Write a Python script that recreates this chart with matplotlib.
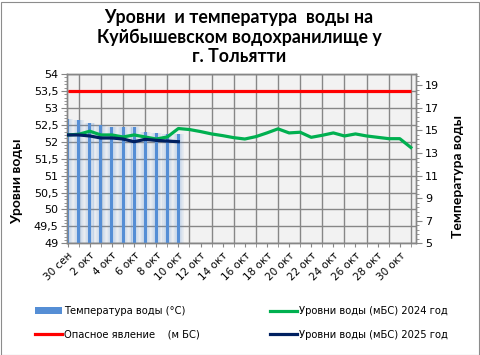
import numpy as np
import matplotlib
matplotlib.use("Agg")
import matplotlib.pyplot as plt
from matplotlib.patches import Rectangle
from matplotlib.lines import Line2D
from matplotlib.ticker import FixedLocator, MultipleLocator

# Data
days = ["30 сен", "1 окт", "2 окт", "3 окт", "4 окт", "5 окт", "6 окт", "7 окт",
        "8 окт", "9 окт", "10 окт", "11 окт", "12 окт", "13 окт", "14 окт", "15 окт",
        "16 окт", "17 окт", "18 окт", "19 окт", "20 окт", "21 окт", "22 окт", "23 окт",
        "24 окт", "25 окт", "26 окт", "27 окт", "28 окт", "29 окт", "30 окт", "31 окт"]
temp_2025 = [16.0, 15.9, 15.7, 15.5, 15.3, 15.3, 15.3, 14.9, 14.8, 14.7, 14.7]
level_2025 = [52.2, 52.2, 52.17, 52.11, 52.11, 52.08, 52.0, 52.07, 52.04, 52.02, 52.0]
level_2024 = [52.2, 52.22, 52.31, 52.2, 52.2, 52.14, 52.2, 52.14, 52.08, 52.14, 52.39,
              52.36, 52.3, 52.23, 52.18, 52.12, 52.08, 52.15, 52.26, 52.38, 52.26, 52.28,
              52.13, 52.19, 52.26, 52.17, 52.23, 52.17, 52.13, 52.09, 52.09, 51.83]
danger = [53.5] * len(days)

title = "Уровни  и температура  воды на\nКуйбышевском водохранилище у\nг. Тольятти"

W, H = 481, 355
fig = plt.figure(figsize=(W / 100, H / 100), dpi=100)
fig.patch.set_facecolor("white")
fig.add_artist(Rectangle((0.5 / W, 0.5 / H), 1 - 2 / W, 1 - 2 / H, transform=fig.transFigure,
                         fill=False, edgecolor="#8c8c8c", linewidth=0.8))

ax = fig.add_axes([67 / W, (H - 243.3) / H, (415.5 - 67) / W, (243.3 - 74) / H])
ax2 = ax.twinx()
ax.set_facecolor("#f2f2f2")
ax2.patch.set_visible(False)

x = np.arange(len(days))
ax.set_xlim(-0.06, 31.42)
ax.set_ylim(49, 54)
ax2.set_ylim(5, 20)

# grid on the bottom axes so the bars cover it
ax.yaxis.set_major_locator(MultipleLocator(0.5))
ax.yaxis.set_minor_locator(MultipleLocator(0.1))
ax.set_xticks(x, minor=True)
ax.set_xticks(x[::2])
ax.set_xticklabels(days[::2], rotation=45, ha="right", rotation_mode="anchor", fontsize=7.5)
ax.grid(True, which="major", axis="y", color="#878787", linewidth=1.0)
ax.grid(True, which="minor", axis="x", color="#878787", linewidth=1.0)
ax.set_axisbelow(True)

# bars with a horizontal fade: narrow solid core, see-through light sides
n = 30
sw = 1.0 / n
xb = x[:len(temp_2025)]
for k in range(n):
    off = -0.5 + sw * (k + 0.5)
    d = abs(off)
    if d <= 0.14:
        a = 1.0
    else:
        a = 0.28 - 0.24 * (d - 0.14) / 0.36
    ax2.bar(xb + off, temp_2025, width=sw * 1.05, color="#558ed5", alpha=a,
            linewidth=0, zorder=1)

# level lines drawn on top of the bars, in left-axis coordinates
lw = 2.3
ax2.plot(x, danger, color="#ff0000", linewidth=lw, transform=ax.transData, zorder=3,
         solid_capstyle="butt")
ax2.plot(x, level_2024, color="#00b050", linewidth=lw, transform=ax.transData, zorder=3,
         solid_joinstyle="round")
ax2.plot(xb, level_2025, color="#002060", linewidth=lw, transform=ax.transData, zorder=4,
         solid_joinstyle="round")

ax.set_yticks(np.arange(49, 54.01, 0.5))
ax.set_yticklabels([f"{v:g}".replace(".", ",") for v in np.arange(49, 54.01, 0.5)], fontsize=8)
ax2.yaxis.set_major_locator(FixedLocator(np.arange(5, 20, 2)))
ax2.yaxis.set_minor_locator(FixedLocator(np.arange(5, 20.01, 0.4)))
ax2.tick_params(axis="y", labelsize=8)

for a in (ax, ax2):
    for s in a.spines.values():
        s.set_color("#868686")
        s.set_linewidth(1.0)
ax.tick_params(which="major", length=4, color="#868686", pad=2)
ax.tick_params(which="minor", length=2.5, color="#868686")
ax2.tick_params(which="major", length=4, color="#868686", pad=3)
ax2.tick_params(which="minor", length=2.5, color="#868686")
ax.tick_params(axis="x", which="both", length=3)

fig.text(239 / W, 1 - 8.5 / H, title, ha="center", va="top", fontsize=12.8,
         fontweight="bold", family="Lato", linespacing=1.2)
fig.text(17 / W, 1 - 181 / H, "Уровни воды", rotation=90, ha="center", va="center",
         fontsize=10, fontweight="bold", family="Lato")
fig.text(458 / W, 1 - 176 / H, "Температура воды", rotation=90, ha="center", va="center",
         fontsize=10, fontweight="bold", family="Lato")

h_temp = Rectangle((0, 0), 1, 1, facecolor="#558ed5", edgecolor="none")
h_danger = Line2D([], [], color="#ff0000", linewidth=lw)
h_24 = Line2D([], [], color="#00b050", linewidth=lw)
h_25 = Line2D([], [], color="#002060", linewidth=lw)
kw = dict(frameon=False, fontsize=7.2, handlelength=2.7, handletextpad=0.2,
          labelspacing=1.35, loc="upper left", borderaxespad=0, borderpad=0)
leg1 = fig.legend([h_temp, h_danger], ["Температура воды (°C)", "Опасное явление    (м БС)"],
                  bbox_to_anchor=(35 / W, 1 - 306 / H), **kw)
leg2 = fig.legend([h_24, h_25], ["Уровни воды (мБС) 2024 год", "Уровни воды (мБС) 2025 год"],
                  bbox_to_anchor=(270 / W, 1 - 306 / H), **kw)

fig.savefig("out.png", dpi=100)
